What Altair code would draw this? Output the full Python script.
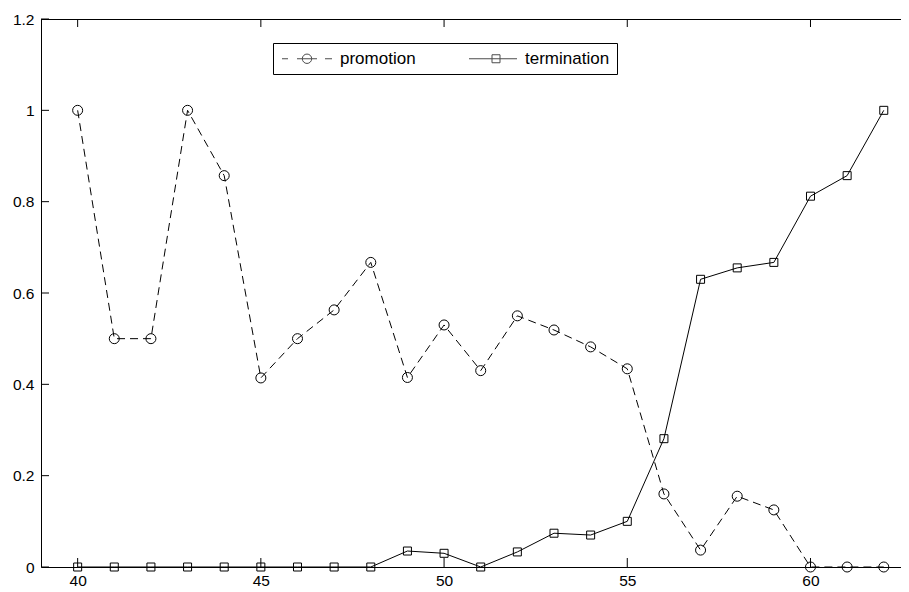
import altair as alt
import pandas as pd

# ---- data ----
ages = list(range(40, 63))
promotion = [1.0, 0.5, 0.5, 1.0, 0.857, 0.414, 0.5, 0.563, 0.667, 0.415,
             0.530, 0.430, 0.550, 0.519, 0.482, 0.434, 0.160, 0.037, 0.155,
             0.125, 0.0, 0.0, 0.0]
termination = [0.0, 0.0, 0.0, 0.0, 0.0, 0.0, 0.0, 0.0, 0.0, 0.035,
               0.030, 0.0, 0.033, 0.074, 0.070, 0.100, 0.281, 0.630, 0.655,
               0.667, 0.812, 0.857, 1.0]
series_names = ["promotion", "termination"]
x_ticks = [40, 45, 50, 55, 60]
y_ticks = [0, 0.2, 0.4, 0.6, 0.8, 1, 1.2]

W, H = 860, 548
FONT = "Liberation Sans"
FS = 15.5

df = pd.DataFrame({
    "x": ages * 2,
    "value": promotion + termination,
    "series": [series_names[0]] * len(ages) + [series_names[1]] * len(ages),
})
xt = pd.DataFrame({"x": x_ticks})
yt = pd.DataFrame({"value": y_ticks})
one = pd.DataFrame({"x": [x_ticks[0]]})

xs = alt.Scale(domain=[39, 62.47], nice=False, zero=False)
ys = alt.Scale(domain=[0, 1.2], nice=False, zero=False)

X = alt.X("x:Q", scale=xs, title=None,
          axis=alt.Axis(values=x_ticks, ticks=False, domain=True,
                        domainColor="black", domainWidth=1, grid=False,
                        labelFont=FONT, labelFontSize=FS, labelColor="black",
                        labelPadding=6, labelFlush=False, format="~g"))
Y = alt.Y("value:Q", scale=ys, title=None,
          axis=alt.Axis(values=y_ticks, ticks=False, domain=True,
                        domainColor="black", domainWidth=1, grid=False,
                        labelFont=FONT, labelFontSize=FS, labelColor="black",
                        labelPadding=7, format="~g"))

base = alt.Chart(df)

prom_line = base.transform_filter(alt.datum.series == "promotion").mark_line(
    color="black", strokeWidth=1, strokeDash=[8, 5]).encode(x=X, y=Y)
term_line = base.transform_filter(alt.datum.series == "termination").mark_line(
    color="black", strokeWidth=1).encode(x=X, y=Y)
prom_pts = base.transform_filter(alt.datum.series == "promotion").mark_point(
    shape="circle", size=100, filled=False, color="black", strokeWidth=1,
    opacity=1).encode(x=X, y=Y)
term_pts = base.transform_filter(alt.datum.series == "termination").mark_point(
    shape="square", size=64, filled=False, color="black", strokeWidth=1,
    opacity=1).encode(x=X, y=Y)

# inward tick marks
xb = alt.Chart(xt).mark_rule(color="black", strokeWidth=1).encode(
    x=X, y=alt.value(H), y2=alt.value(H - 9))
xtop = alt.Chart(xt).mark_rule(color="black", strokeWidth=1).encode(
    x=X, y=alt.value(0), y2=alt.value(8))
yl = alt.Chart(yt).mark_rule(color="black", strokeWidth=1).encode(
    y=Y, x=alt.value(0), x2=alt.value(8))
# top frame line
top_frame = alt.Chart(one).mark_rule(color="black", strokeWidth=1).encode(
    x=alt.value(0), x2=alt.value(W), y=alt.value(0.5))

# legend symbols (line + marker) as custom paths
path_prom = ("M-6.25,0H-4.75M-2.5,0H2.5M4.5,0H6.25"
             "M1.175,0A1.175,1.175,0,1,1,-1.175,0A1.175,1.175,0,1,1,1.175,0Z")
path_term = "M-5.75,0H6.25M0,-1H2V1H0Z"

legend_layer = base.transform_filter("datum.x < 0").mark_point(
    filled=False, color="black").encode(
    x=X, y=Y,
    shape=alt.Shape("series:N",
                    scale=alt.Scale(domain=series_names, range=[path_prom, path_term]),
                    legend=alt.Legend(
                        orient="none", legendX=232, legendY=24,
                        direction="horizontal", title=None,
                        symbolSize=64, symbolStrokeWidth=1,
                        symbolStrokeColor="black", symbolFillColor="transparent",
                        symbolOffset=18.5, labelOffset=24.5, columnPadding=49,
                        labelFont=FONT, labelFontSize=17, labelColor="black",
                        padding=7, strokeColor="black", fillColor="white",
                        cornerRadius=0)))

chart = alt.layer(
    prom_line, term_line, prom_pts, term_pts, xb, xtop, yl, top_frame, legend_layer
).properties(
    width=W, height=H,
    autosize=alt.AutoSizeParams(type="none"),
    padding={"left": 33, "top": 11, "right": 0, "bottom": 23},
    background="white",
).configure_view(stroke=None)

chart.save("out.html", embed_options={"renderer": "svg", "actions": False})
